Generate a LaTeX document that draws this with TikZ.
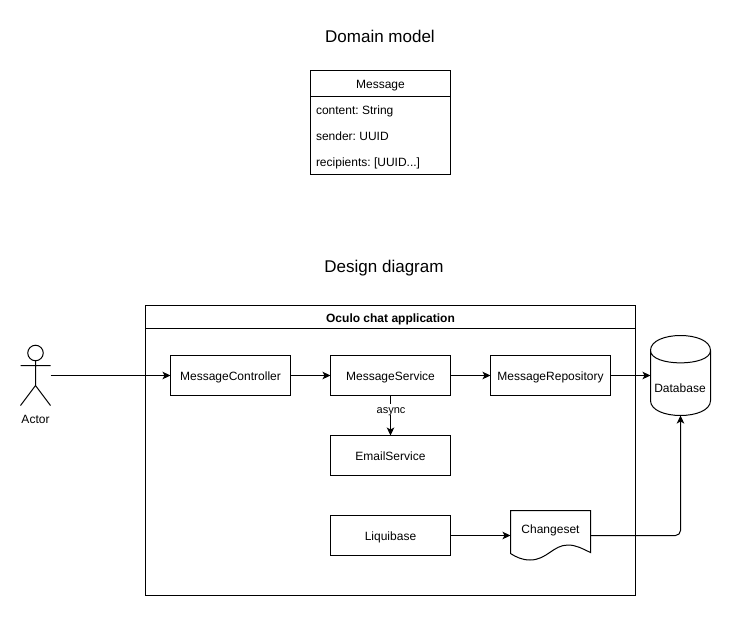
\documentclass[tikz,border=0pt]{standalone}
\usepackage{fontspec}
\setmainfont{Liberation Sans}
\usetikzlibrary{arrows.meta}
\frenchspacing
\tikzset{
  every node/.style={font=\fontsize{12}{14}\selectfont, inner sep=0pt, outer sep=0pt, text height=9.5pt, text depth=0.5pt},
  lw/.style={line width=1pt},
  boxnode/.style={draw, lw, minimum width=120pt, minimum height=40pt},
  conn/.style={lw, -{Stealth[length=8pt,width=7.5pt,inset=2pt]}},
  titletext/.style={font=\fontsize{17}{19}\selectfont, text height=12pt, text depth=1pt},
  fieldtext/.style={anchor=west}
}
\begin{document}
\begin{tikzpicture}[x=1pt,y=-1pt]
\useasboundingbox (0,0) rectangle (731,616);
% titles
\node[titletext] (domtitle) at (380,36.5) {Domain model};
\node[titletext] (destitle) at (384,266.5) {Design diagram};
% class box
\node[draw,lw,minimum width=140pt,minimum height=104pt] (msg) at (380.5,122.5) {};
\draw[lw] (310.5,96.5) -- (450.5,96.5);
\node (msgname) at (380.5,84) {Message};
\node[fieldtext] (f1) at (316,109.5) {content: String};
\node[fieldtext] (f2) at (316,135.5) {sender: UUID};
\node[fieldtext] (f3) at (316,161.5) {recipients: [UUID...]};
% container
\node[draw,lw,minimum width=490pt,minimum height=290pt] (app) at (390.5,450.5) {};
\draw[lw] (145.5,328.5) -- (635.5,328.5);
\node[font=\fontsize{12}{14}\selectfont\bfseries] (apptitle) at (390.5,317.5) {Oculo chat application};
% boxes
\node[boxnode] (ctrl) at (230.5,375.5) {MessageController};
\node[boxnode] (svc) at (390.5,375.5) {MessageService};
\node[boxnode] (repo) at (550.5,375.5) {MessageRepository};
\node[boxnode] (email) at (390.5,455.5) {EmailService};
\node[boxnode] (liq) at (390.5,535.5) {Liquibase};
% actor
\node[minimum width=30pt,minimum height=60pt] (actor) at (35.5,375.5) {};
\draw[lw] (35.5,353) circle (7.75pt);
\draw[lw] (35.5,360.75) -- (35.5,385.5) (20.5,365.5) -- (50.5,365.5)
  (20.5,405.5) -- (35.5,385.5) -- (50.5,405.5);
\node (actorlabel) at (35.5,418.5) {Actor};
% changeset
\node[minimum width=80pt,minimum height=50pt] (doc) at (550.5,535.5) {};
\draw[lw,line join=miter] (510.5,510.5) -- (590.5,510.5) -- (590.5,552.5)
  .. controls (582,548.5) and (576,545) .. (568,545)
  .. controls (553,545) and (547,560) .. (530,560)
  .. controls (522,560) and (516,557) .. (510.5,553.5) -- cycle;
\node (doclabel) at (550.5,528.5) {Changeset};
% database
\node[minimum width=60pt,minimum height=80pt] (db) at (680.5,375.5) {};
\draw[lw] (650.5,350.5) .. controls (650.5,330.5) and (710.5,330.5) .. (710.5,350.5)
  -- (710.5,400.5) .. controls (710.5,420.5) and (650.5,420.5) .. (650.5,400.5) -- cycle
  (650.5,350.5) .. controls (650.5,367) and (710.5,367) .. (710.5,350.5);
\node (dblabel) at (680,387.5) {Database};
% connectors
\draw[conn] (actor.east) -- (ctrl.west);
\draw[conn] (ctrl) -- (svc);
\draw[conn] (svc) -- (repo);
\draw[conn] (repo) -- (db.west);
\draw[conn] (svc) -- node[fill=white,font=\fontsize{11}{13}\selectfont,inner sep=1pt,text height=8pt,text depth=0.5pt,pos=0.35,xshift=0.5pt] (asynclabel) {async} (email);
\draw[conn] (liq) -- (doc.west);
\draw[conn,rounded corners=5pt] (doc.east) -| (db.south);
\end{tikzpicture}
\end{document}
